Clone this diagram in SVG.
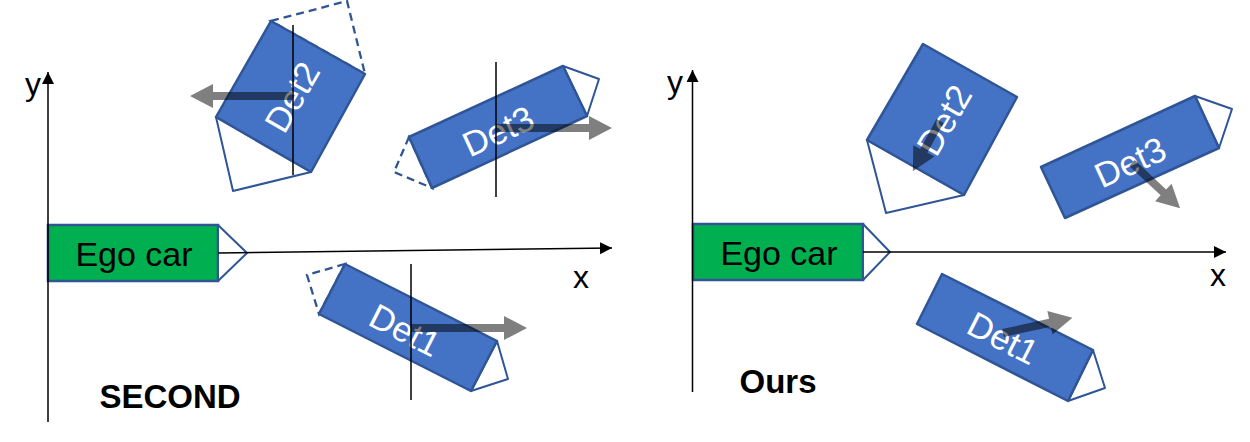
<svg xmlns="http://www.w3.org/2000/svg" width="1250" height="442" viewBox="0 0 1250 442">
<style>
.box{fill:#4472C4;stroke:#2F5597;stroke-width:2.5;stroke-linejoin:round}
.tip{fill:#FFFFFF;stroke:#2F5597;stroke-width:2;stroke-linejoin:round}
.dash{fill:none;stroke:#2F5597;stroke-width:2.3;stroke-dasharray:8,5}
.ego{fill:#00B050;stroke:#2F5597;stroke-width:2.5}
.det{font-family:"Liberation Sans",Arial,sans-serif;font-size:35px;fill:#FFFFFF;text-anchor:middle}
.lbl{font-family:"Liberation Sans",Arial,sans-serif;font-size:32px;fill:#000000;text-anchor:middle}
.ego-t{font-family:"Liberation Sans",Arial,sans-serif;font-size:34px;fill:#000000;text-anchor:middle}
.title{font-family:"Liberation Sans",Arial,sans-serif;font-size:33px;font-weight:bold;fill:#000000;text-anchor:middle}
.mv{fill:#000000;fill-opacity:0.5}
.vl{stroke:#000000;stroke-width:1.5}
.axis{stroke:#000000;stroke-width:1.5;fill:none}
</style>
<defs>
<marker id="ah" markerUnits="userSpaceOnUse" markerWidth="14" markerHeight="14" refX="12" refY="6" orient="auto">
<path d="M0,0 L12,6 L0,12 Z" fill="#000000"/>
</marker>
</defs>

<!-- Left panel: SECOND -->
<g id="ego-left">
<rect class="ego" x="48" y="225" width="170" height="56"/>
<polygon class="tip" points="218,225 247,253 218,281" fill="none"/>
<text class="ego-t" x="134" y="266">Ego car</text>
</g>

<g id="det2-left">
<polygon class="dash" points="271,21 347,1 365,74"/>
<polygon class="tip" points="216,117 233,191 311,172"/>
<polygon class="box" points="271,21 365,74 311,172 216,117"/>
<text class="det" transform="translate(292,97) rotate(-60)" y="12.5">Det2</text>
<polygon class="mv" transform="translate(292,96) rotate(180)" points="0,-4 79,-4 79,-12 102,0 79,12 79,4 0,4"/>
<line class="vl" x1="293" y1="25" x2="293" y2="175"/>
</g>

<g id="det3-left">
<polygon class="dash" points="409,137 394,172 432,188"/>
<polygon class="tip" points="563,66 599,79 587,116"/>
<polygon class="box" points="409,137 563,66 587,116 432,188"/>
<text class="det" transform="translate(498,131) rotate(-24.8)" y="12.5">Det3</text>
<polygon class="mv" transform="translate(496,128)" points="0,-4 93,-4 93,-12 116,0 93,12 93,4 0,4"/>
<line class="vl" x1="496" y1="62" x2="496" y2="197"/>
</g>

<g id="det1-left">
<polygon class="dash" points="345,264 307,275 319,314"/>
<polygon class="tip" points="497,341 508,379 471,391"/>
<polygon class="box" points="345,264 497,341 471,391 319,314"/>
<text class="det" transform="translate(405,330) rotate(27)" y="12.5">Det1</text>
<polygon class="mv" transform="translate(411,328)" points="0,-4 93,-4 93,-12 116,0 93,12 93,4 0,4"/>
<line class="vl" x1="411" y1="264" x2="411" y2="400"/>
</g>

<text class="title" x="170" y="408">SECOND</text>
<text class="lbl" x="33" y="95">y</text>
<text class="lbl" x="581" y="288">x</text>

<!-- Right panel: Ours -->
<g id="ego-right">
<rect class="ego" x="693" y="224" width="170" height="56"/>
<polygon class="tip" points="863,224 890,252 863,280" fill="none"/>
<text class="ego-t" x="779" y="265">Ego car</text>
</g>

<g id="det2-right">
<polygon class="tip" points="867,140 886,213 964,195"/>
<polygon class="box" points="923,44 1017,97 964,195 867,140"/>
<text class="det" transform="translate(944,120) rotate(-60)" y="12.5">Det2</text>
<polygon class="mv" transform="translate(940,121) rotate(118.4)" points="0,-4 34,-4 34,-12 57,0 34,12 34,4 0,4"/>
</g>

<g id="det3-right">
<polygon class="tip" points="1195,96 1232,109 1219,148"/>
<polygon class="box" points="1041,167 1195,96 1219,148 1065,218"/>
<text class="det" transform="translate(1130,162) rotate(-24.8)" y="12.5">Det3</text>
<polygon class="mv" transform="translate(1132,163) rotate(43.2)" points="0,-4 43,-4 43,-12 66,0 43,12 43,4 0,4"/>
</g>

<g id="det1-right">
<polygon class="tip" points="1093,350 1105,388 1068,401"/>
<polygon class="box" points="942,274 1093,350 1068,401 917,324"/>
<text class="det" transform="translate(1003,338) rotate(27)" y="12.5">Det1</text>
<polygon class="mv" transform="translate(1003,333) rotate(-12.3)" points="0,-4 48,-4 48,-12 71,0 48,12 48,4 0,4"/>
</g>

<text class="title" x="778" y="393">Ours</text>
<text class="lbl" x="675" y="93">y</text>
<text class="lbl" x="1218" y="286">x</text>

<g id="connectors">
<line class="axis" x1="48" y1="422" x2="48" y2="72" marker-end="url(#ah)"/>
<line class="axis" x1="218" y1="253" x2="612" y2="248" marker-end="url(#ah)"/>
<line class="axis" x1="692.5" y1="392" x2="692.5" y2="70" marker-end="url(#ah)"/>
<line class="axis" x1="863" y1="252" x2="1226" y2="252" marker-end="url(#ah)"/>
</g>
</svg>
